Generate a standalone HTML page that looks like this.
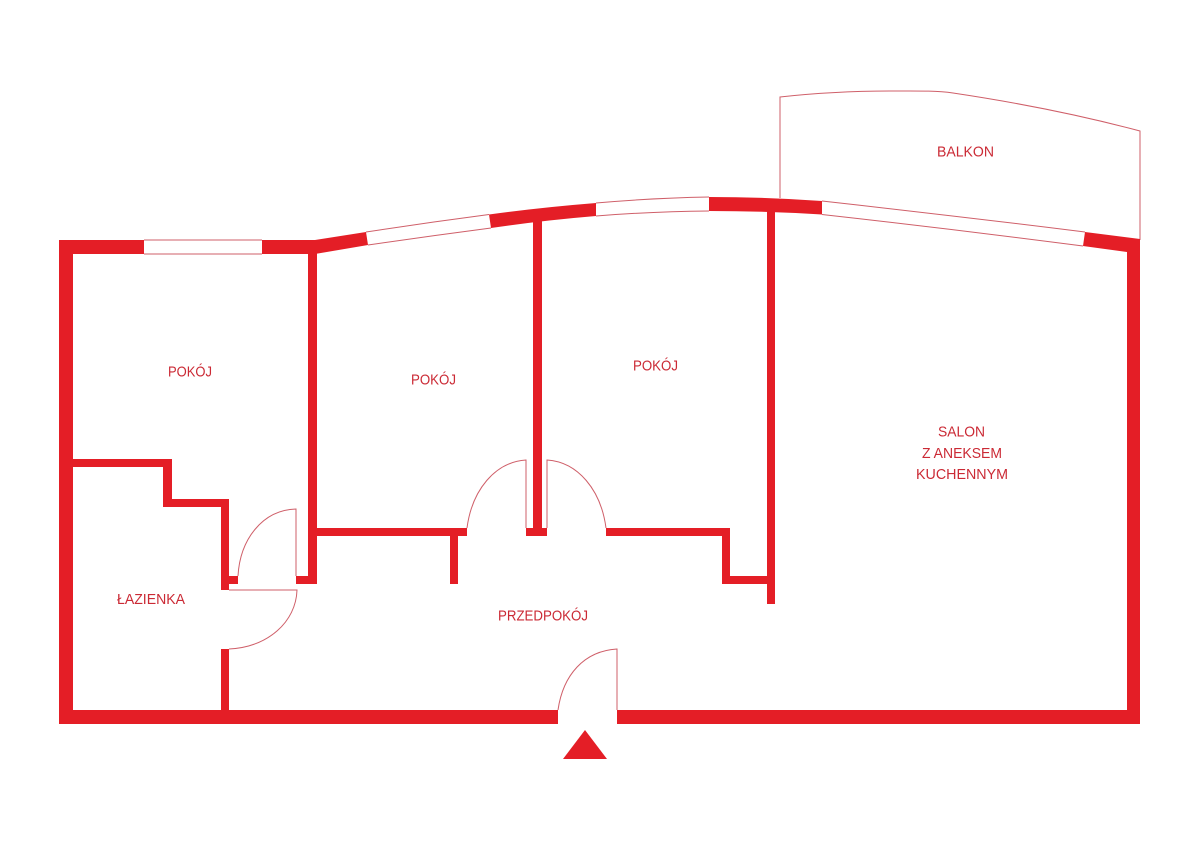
<!DOCTYPE html>
<html>
<head>
<meta charset="utf-8">
<style>
html,body{margin:0;padding:0;background:#fff;width:1200px;height:850px;overflow:hidden}
svg{display:block}
text{font-family:"Liberation Sans",sans-serif;font-size:15px;fill:#cb2a35}
</style>
</head>
<body>
<svg width="1200" height="850" viewBox="0 0 1200 850" xmlns="http://www.w3.org/2000/svg">
<rect width="1200" height="850" fill="#fff"/>

<!-- Balcony -->
<path d="M780 198 L780 97 C820 92.500 860 91 893 91 C915 91 935 90.500 953 93 C1020 103 1080 115 1140 131 L1140 240" fill="none" stroke="#cf5f69" stroke-width="1"/>

<!-- Outer walls, solid pieces -->
<g fill="#e41e26">
<rect x="59" y="240" width="14" height="484"/>
<rect x="59" y="240" width="85" height="14"/>
<rect x="262" y="240" width="55" height="14"/>
<rect x="59" y="710" width="499" height="14"/>
<rect x="617" y="710" width="523" height="14"/>
<rect x="1127" y="240" width="13" height="484"/>
<polygon points="315,240 366,232 368,245 315,254"/>
<path d="M489 214.500 Q540 207.500 596 203 L596 216 Q542 220.500 491 228 Z"/>
<path d="M709 197 Q766 197 822 201 L822 214.500 Q766 211 709 211 Z"/>
<polygon points="1085,232 1140,239 1140,254 1127,254 1127,252 1083,246"/>

<!-- Interior walls -->
<rect x="308" y="254" width="9" height="330"/>
<rect x="296" y="576" width="21" height="8"/>
<rect x="317" y="528" width="150" height="8"/>
<rect x="450" y="536" width="8" height="48"/>
<rect x="533" y="218" width="9" height="312"/>
<rect x="526" y="528" width="21" height="8"/>
<rect x="606" y="528" width="124" height="8"/>
<rect x="722" y="528" width="8" height="56"/>
<rect x="722" y="576" width="50" height="8"/>
<rect x="767" y="211" width="8" height="393"/>
<rect x="73" y="459" width="99" height="8"/>
<rect x="163" y="459" width="9" height="48"/>
<rect x="163" y="499" width="66" height="8"/>
<rect x="221" y="499" width="8" height="91"/>
<rect x="221" y="576" width="17" height="8"/>
<rect x="221" y="649" width="8" height="61"/>
<polygon points="585,730 607,759 563,759"/>
</g>

<!-- Windows -->
<g fill="none" stroke="#cf5f69" stroke-width="1">
<path d="M144 240 H262 M144 254 H262"/>
<path d="M366 232 Q428 222.500 489 214.500 M368 245 Q430 236 491 228"/>
<path d="M596 203 Q652 198 709 197 M596 216 Q652 211.500 709 211"/>
<path d="M822 201 Q952 215.500 1085 232 M822 214.500 Q952 229 1083 246"/>

<!-- Doors -->
<path d="M238 576 C240 540 262 510 296 509 L296 576"/>
<path d="M229 590 L297 590 C296 622 268 647 229 649"/>
<path d="M467 528 C472 490 495 462 526 460 L526 528"/>
<path d="M606 528 C601 490 578 462 547 460 L547 528"/>
<path d="M558 710 C563 675 584 651 617 649 L617 710"/>
</g>

<!-- Labels -->
<text x="937" y="156.500" textLength="57" lengthAdjust="spacingAndGlyphs">BALKON</text>
<text x="168" y="376.500" textLength="44" lengthAdjust="spacingAndGlyphs">POKÓJ</text>
<text x="411" y="384.500" textLength="45" lengthAdjust="spacingAndGlyphs">POKÓJ</text>
<text x="633" y="370.500" textLength="45" lengthAdjust="spacingAndGlyphs">POKÓJ</text>
<text x="938" y="436.500" textLength="47" lengthAdjust="spacingAndGlyphs">SALON</text>
<text x="922" y="458" textLength="80" lengthAdjust="spacingAndGlyphs">Z ANEKSEM</text>
<text x="916" y="479" textLength="92" lengthAdjust="spacingAndGlyphs">KUCHENNYM</text>
<text x="117" y="604" textLength="68" lengthAdjust="spacingAndGlyphs">ŁAZIENKA</text>
<text x="498" y="620.500" textLength="90" lengthAdjust="spacingAndGlyphs">PRZEDPOKÓJ</text>
</svg>
</body>
</html>
